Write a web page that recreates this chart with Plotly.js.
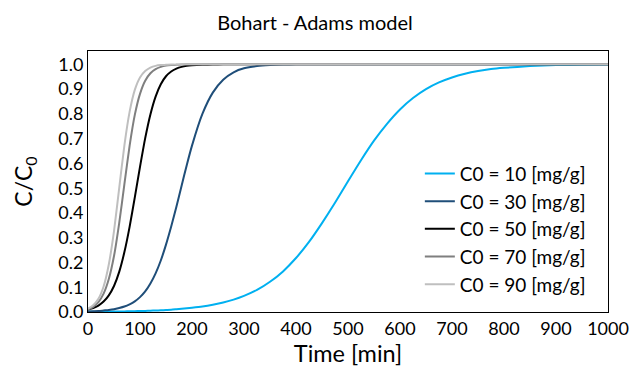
<!DOCTYPE html>
<html>
<head>
<meta charset="utf-8">
<script src="https://cdn.plot.ly/plotly-3.0.1.min.js"></script>
<style>html,body{margin:0;padding:0;background:#fff;}#chart{width:630px;height:371px;}</style>
</head>
<body>
<div id="chart"></div>
<script>
// Time [min]
var time = [0,10,20,30,40,50,60,70,80,90,100,110,120,130,140,150,160,170,180,190,200,220,240,260,280,300,325,350,375,400,425,450,475,500,525,550,575,600,625,650,675,700,725,750,775,800,850,900,950,1000];

var seriesNames = ["C0 = 10 [mg/g]","C0 = 30 [mg/g]","C0 = 50 [mg/g]","C0 = 70 [mg/g]","C0 = 90 [mg/g]"];

var c10 = [0.001,0.001,0.0012,0.0014,0.0016,0.0019,0.0022,0.0025,0.0029,0.0033,0.0038,0.0045,0.0052,0.006,0.0068,0.0078,0.009,0.011,0.013,0.015,0.017,0.022,0.029,0.038,0.050,0.065,0.089,0.122,0.164,0.218,0.283,0.359,0.441,0.528,0.613,0.692,0.760,0.818,0.864,0.900,0.927,0.947,0.962,0.973,0.981,0.986,0.993,0.997,0.998,0.999];
var c30 = [0.002,0.003,0.004,0.006,0.008,0.011,0.016,0.022,0.031,0.043,0.060,0.083,0.115,0.156,0.208,0.272,0.345,0.425,0.510,0.594,0.672,0.800,0.886,0.938,0.968,0.984,0.993,0.997,0.999,1.0,1.0,1.0,1.0,1.0,1.0,1.0,1.0,1.0,1.0,1.0,1.0,1.0,1.0,1.0,1.0,1.0,1.0,1.0,1.0,1.0];
var c50 = [0.010,0.016,0.026,0.042,0.067,0.105,0.162,0.242,0.344,0.463,0.586,0.702,0.798,0.870,0.920,0.952,0.971,0.983,0.990,0.994,0.996,0.998,0.999,1.0,1.0,1.0,1.0,1.0,1.0,1.0,1.0,1.0,1.0,1.0,1.0,1.0,1.0,1.0,1.0,1.0,1.0,1.0,1.0,1.0,1.0,1.0,1.0,1.0,1.0,1.0];
var c70 = [0.011,0.021,0.040,0.074,0.133,0.226,0.359,0.516,0.671,0.796,0.881,0.934,0.964,0.981,0.990,0.995,0.997,0.998,0.999,1.0,1.0,1.0,1.0,1.0,1.0,1.0,1.0,1.0,1.0,1.0,1.0,1.0,1.0,1.0,1.0,1.0,1.0,1.0,1.0,1.0,1.0,1.0,1.0,1.0,1.0,1.0,1.0,1.0,1.0,1.0];
var c90 = [0.013,0.027,0.053,0.103,0.192,0.327,0.500,0.673,0.808,0.897,0.947,0.973,0.987,0.994,0.997,0.998,0.999,0.999,1.0,1.0,1.0,1.0,1.0,1.0,1.0,1.0,1.0,1.0,1.0,1.0,1.0,1.0,1.0,1.0,1.0,1.0,1.0,1.0,1.0,1.0,1.0,1.0,1.0,1.0,1.0,1.0,1.0,1.0,1.0,1.0];

var seriesValues = [c10,c30,c50,c70,c90];
var colors = ["#00B0F0","#1F4E79","#000000","#7F7F7F","#BFBFBF"];

var font = "Lato, 'Open Sans', sans-serif";
var traces = seriesValues.map(function(v,i){
  return {x: time, y: v, type:'scatter', mode:'lines', name: seriesNames[i],
    line:{color: colors[i], width: 2, shape:'spline', smoothing:0.6}};
});

var layout = {
  width: 630, height: 371,
  margin: {l:88, r:22, t:51, b:59},
  paper_bgcolor:'#fff', plot_bgcolor:'#fff',
  font: {family: font, color:'#000'},
  title: {text:'Bohart - Adams model', font:{size:20, family:font, color:'#000'}, x:0.5, xanchor:'center', y:0.937, yanchor:'middle'},
  xaxis: {range:[0,1000], dtick:100, tick0:0, showgrid:false, zeroline:false,
    showline:true, linecolor:'#000', linewidth:1, mirror:true, ticks:'',
    tickfont:{size:18, family:font}, title:{text:'Time [min]', font:{size:23.5, family:font}, standoff:5}},
  yaxis: {range:[0,1.054], dtick:0.1, tick0:0, tickformat:'.1f', showgrid:false, zeroline:false,
    showline:true, linecolor:'#000', linewidth:1, mirror:true, ticks:'',
    tickfont:{size:18, family:font}, title:{text:'C/C<sub>0</sub>', font:{size:23, family:font}, standoff:19}},
  showlegend: true,
  legend: {x:0.967, xanchor:'right', y:0.603, yanchor:'top', bgcolor:'rgba(0,0,0,0)',
    font:{size:19, family:font}, tracegroupgap:0}
};
Plotly.newPlot('chart', traces, layout, {staticPlot:true, displayModeBar:false});
</script>
</body>
</html>
